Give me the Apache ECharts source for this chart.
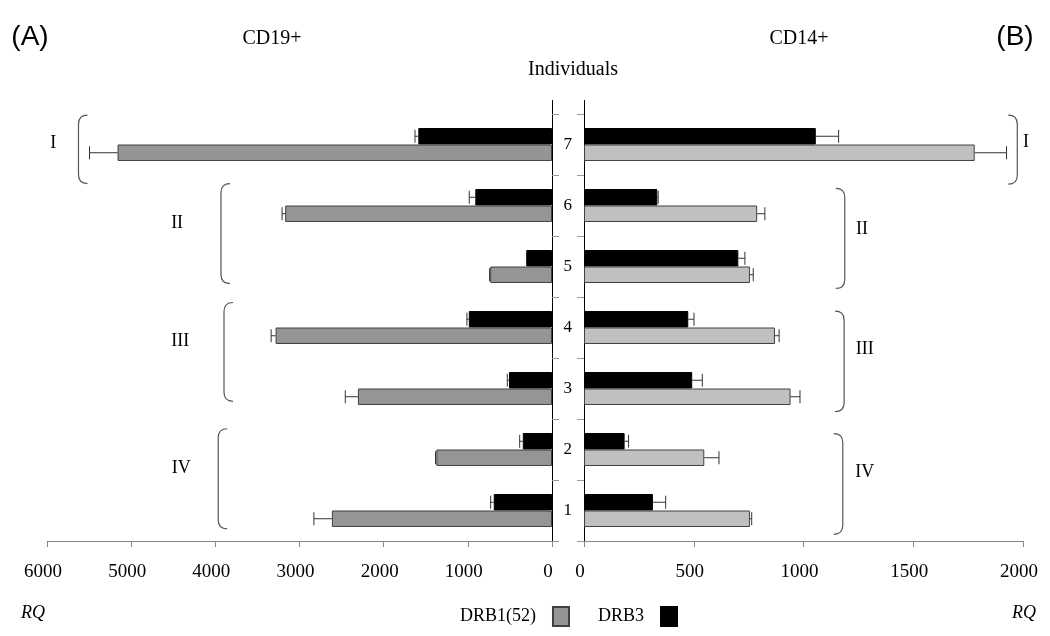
<!DOCTYPE html>
<html><head><meta charset="utf-8">
<script src="https://cdn.jsdelivr.net/npm/echarts@6/dist/echarts.min.js"></script>
<style>html,body{margin:0;padding:0;background:#fff}#c{width:1050px;height:636px}</style>
</head><body><div id="c"></div>
<script>
// ---------------- data ----------------
const categories = ['1', '2', '3', '4', '5', '6', '7'];
// CD19+ (panel A)
const cd19Drb1 = [2615, 1374, 2306, 3284, 734, 3170, 5162];
const cd19Drb1Err = [214, 10, 150, 53, 8, 37, 333];
const cd19Drb3 = [692, 347, 511, 988, 306, 911, 1588];
const cd19Drb3Err = [37, 37, 20, 23, 0, 72, 40];
// CD14+ (panel B)
const cd14Drb1 = [756, 548, 941, 870, 756, 789, 1780];
const cd14Drb1Err = [8, 67, 43, 19, 15, 35, 145];
const cd14Drb3 = [314, 185, 493, 475, 703, 334, 1056];
const cd14Drb3Err = [58, 18, 46, 26, 30, 4, 104];
// axis ticks
const cd19Ticks = [0, 1000, 2000, 3000, 4000, 5000, 6000];
const cd14Ticks = [0, 500, 1000, 1500, 2000];
// groups of individuals
const groupNames = ['I', 'II', 'III', 'IV'];
const groupTop = ['7', '6', '4', '2'];
const groupBottom = ['7', '5', '3', '1'];

// ---------------- layout / style ----------------
const SERIF = '"Liberation Serif","Times New Roman",serif';
const GRID_TOP = 114, GRID_BOTTOM = 95;
const LEFT_GRID = {left: 47, width: 505};
const RIGHT_GRID = {left: 584, width: 439};
const BAR_FRAC = 0.27; // bar thickness as fraction of band
const GRAY_L = '#959595', GRAY_R = '#c0c0c0', EDGE = '#404040';

// bracket layout: x (value units), label x (value units), top/bottom offsets (band fraction), label y offset (px)
const leftBracketLayout = [
  {x: 5626, lx: 5926, t: -0.48, b: 0.64, ly: -6},
  {x: 3933, lx: 4454, t: -0.36, b: 0.28, ly: -10},
  {x: 3897, lx: 4418, t: -0.41, b: 0.21, ly: -11},
  {x: 3966, lx: 4406, t: -0.34, b: 0.30, ly: -11}
];
const rightBracketLayout = [
  {x: 1974, lx: 2014, t: -0.48, b: 0.65, ly: -7},
  {x: 1188, lx: 1266, t: -0.28, b: 0.36, ly: -9},
  {x: 1185, lx: 1279, t: -0.27, b: 0.38, ly: -12},
  {x: 1179, lx: 1279, t: -0.26, b: 0.39, ly: -12}
];

function errRender(slot) {
  return function (params, api) {
    const v = api.value(0), c = api.value(1), e = api.value(2);
    if (!(e > 0)) return null;
    const band = api.size([0, 1])[1];
    const bw = band * BAR_FRAC;
    const a = api.coord([v, c]);
    const b = api.coord([v + e, c]);
    const y = a[1] + slot * bw;
    const h = 6.5;
    return {type: 'group', children: [
      {type: 'line', shape: {x1: a[0], y1: y, x2: b[0], y2: y}, style: {stroke: '#333', lineWidth: 1}},
      {type: 'line', shape: {x1: b[0], y1: y - h, x2: b[0], y2: y + h}, style: {stroke: '#333', lineWidth: 1}}
    ]};
  };
}

function bracketRender(layout, side) {
  return function (params, api) {
    const L = layout[params.dataIndex];
    const band = api.size([0, 1])[1];
    const ti = categories.indexOf(groupTop[params.dataIndex]);
    const bi = categories.indexOf(groupBottom[params.dataIndex]);
    const pt = api.coord([L.x, ti]);
    const pb = api.coord([L.x, bi]);
    const yt = pt[1] + L.t * band;
    const yb = pb[1] + L.b * band;
    const x0 = pt[0];
    const d = side === 'left' ? 9 : -9;
    const r = 9;
    const path = 'M' + (x0 + d) + ' ' + yt + ' Q' + x0 + ' ' + yt + ' ' + x0 + ' ' + (yt + r) +
      ' L' + x0 + ' ' + (yb - r) + ' Q' + x0 + ' ' + yb + ' ' + (x0 + d) + ' ' + yb;
    const lp = api.coord([L.lx, ti]);
    return {type: 'group', children: [
      {type: 'path', shape: {pathData: path}, style: {stroke: '#555', lineWidth: 1.2, fill: null}},
      {type: 'text', x: lp[0], y: (yt + yb) / 2 + L.ly,
        style: {text: groupNames[params.dataIndex], font: '18px ' + SERIF, fill: '#000',
          align: 'center', verticalAlign: 'middle'}}
    ]};
  };
}

function errData(vals, errs) {
  return vals.map((v, i) => [v, i, errs[i]]);
}

const xAxisCommon = {
  type: 'value',
  splitLine: {show: false},
  axisLine: {show: true, lineStyle: {color: '#8a8a8a', width: 1}},
  axisTick: {show: true, length: 6, lineStyle: {color: '#8a8a8a'}},
  axisLabel: {color: '#000', fontFamily: SERIF, fontSize: 19, margin: 22, padding: [0, 8, 0, 0],
    formatter: function (v) { return String(v); }}
};
const yAxisCommon = {
  type: 'category',
  data: categories,
  boundaryGap: true,
  axisLine: {show: true, lineStyle: {color: '#000', width: 1}},
  axisTick: {show: true, length: 7, lineStyle: {color: '#9a9a9a'}},
  splitLine: {show: false}
};

const barCommon = {type: 'bar', barGap: '0%', barCategoryGap: '46%', animation: false};

const option = {
  animation: false,
  backgroundColor: '#fff',
  grid: [
    {left: LEFT_GRID.left, width: LEFT_GRID.width, top: GRID_TOP, bottom: GRID_BOTTOM},
    {left: RIGHT_GRID.left, width: RIGHT_GRID.width, top: GRID_TOP, bottom: GRID_BOTTOM}
  ],
  xAxis: [
    Object.assign({}, xAxisCommon, {gridIndex: 0, inverse: true, min: cd19Ticks[0],
      max: cd19Ticks[cd19Ticks.length - 1], interval: cd19Ticks[1] - cd19Ticks[0]}),
    Object.assign({}, xAxisCommon, {gridIndex: 1, min: cd14Ticks[0],
      max: cd14Ticks[cd14Ticks.length - 1], interval: cd14Ticks[1] - cd14Ticks[0]})
  ],
  yAxis: [
    Object.assign({}, yAxisCommon, {gridIndex: 0, position: 'right', axisLabel: {show: false}}),
    Object.assign({}, yAxisCommon, {gridIndex: 1, position: 'left',
      axisLabel: {show: true, color: '#000', fontFamily: SERIF, fontSize: 17, margin: 12}})
  ],
  legend: {
    data: ['DRB1(52)', 'DRB3'],
    left: 455, top: 601,
    align: 'right',
    itemWidth: 16, itemHeight: 19, itemGap: 28,
    icon: 'rect',
    textStyle: {color: '#000', fontFamily: SERIF, fontSize: 18, padding: [0, 12, 0, 0]}
  },
  series: [
    // in horizontal bars the first series of a band is drawn on top
    Object.assign({}, barCommon, {name: 'DRB3', xAxisIndex: 0, yAxisIndex: 0, data: cd19Drb3,
      itemStyle: {color: '#000', borderColor: '#000', borderWidth: 1}}),
    Object.assign({}, barCommon, {name: 'DRB1(52)', xAxisIndex: 0, yAxisIndex: 0, data: cd19Drb1,
      itemStyle: {color: GRAY_L, borderColor: EDGE, borderWidth: 1}}),
    Object.assign({}, barCommon, {name: 'DRB3', xAxisIndex: 1, yAxisIndex: 1, data: cd14Drb3,
      itemStyle: {color: '#000', borderColor: '#000', borderWidth: 1}}),
    Object.assign({}, barCommon, {name: 'DRB1(52)', xAxisIndex: 1, yAxisIndex: 1, data: cd14Drb1,
      itemStyle: {color: GRAY_R, borderColor: EDGE, borderWidth: 1}}),
    {type: 'custom', name: 'errA1', xAxisIndex: 0, yAxisIndex: 0, z: 5, renderItem: errRender(0.5),
      encode: {x: 0, y: 1}, data: errData(cd19Drb1, cd19Drb1Err)},
    {type: 'custom', name: 'errA3', xAxisIndex: 0, yAxisIndex: 0, z: 5, renderItem: errRender(-0.5),
      encode: {x: 0, y: 1}, data: errData(cd19Drb3, cd19Drb3Err)},
    {type: 'custom', name: 'errB1', xAxisIndex: 1, yAxisIndex: 1, z: 5, renderItem: errRender(0.5),
      encode: {x: 0, y: 1}, data: errData(cd14Drb1, cd14Drb1Err)},
    {type: 'custom', name: 'errB3', xAxisIndex: 1, yAxisIndex: 1, z: 5, renderItem: errRender(-0.5),
      encode: {x: 0, y: 1}, data: errData(cd14Drb3, cd14Drb3Err)},
    {type: 'custom', name: 'groupsA', xAxisIndex: 0, yAxisIndex: 0, clip: false,
      renderItem: bracketRender(leftBracketLayout, 'left'), encode: {x: 0, y: 1},
      data: groupNames.map((n, i) => [leftBracketLayout[i].x, categories.indexOf(groupTop[i])])},
    {type: 'custom', name: 'groupsB', xAxisIndex: 1, yAxisIndex: 1, clip: false,
      renderItem: bracketRender(rightBracketLayout, 'right'), encode: {x: 0, y: 1},
      data: groupNames.map((n, i) => [rightBracketLayout[i].x, categories.indexOf(groupTop[i])])}
  ],
  graphic: [
    {type: 'text', x: 30, y: 37, style: {text: '(A)', font: '28px "Liberation Sans", Arial, sans-serif', fill: '#000', align: 'center', verticalAlign: 'middle'}},
    {type: 'text', x: 1015, y: 37, style: {text: '(B)', font: '28px "Liberation Sans", Arial, sans-serif', fill: '#000', align: 'center', verticalAlign: 'middle'}},
    {type: 'text', x: 272, y: 39, style: {text: 'CD19+', font: '20px ' + SERIF, fill: '#000', align: 'center', verticalAlign: 'middle'}},
    {type: 'text', x: 799, y: 39, style: {text: 'CD14+', font: '20px ' + SERIF, fill: '#000', align: 'center', verticalAlign: 'middle'}},
    {type: 'text', x: 573, y: 70, style: {text: 'Individuals', font: '20px ' + SERIF, fill: '#000', align: 'center', verticalAlign: 'middle'}},
    {type: 'text', x: 33, y: 613, style: {text: 'RQ', font: 'italic 18px ' + SERIF, fill: '#000', align: 'center', verticalAlign: 'middle'}},
    {type: 'text', x: 1024, y: 613, style: {text: 'RQ', font: 'italic 18px ' + SERIF, fill: '#000', align: 'center', verticalAlign: 'middle'}},
    // upward extension of the two category axis lines
    {type: 'line', shape: {x1: LEFT_GRID.left + LEFT_GRID.width + 0.5, y1: GRID_TOP - 14, x2: LEFT_GRID.left + LEFT_GRID.width + 0.5, y2: GRID_TOP}, style: {stroke: '#000', lineWidth: 1}},
    {type: 'line', shape: {x1: RIGHT_GRID.left + 0.5, y1: GRID_TOP - 14, x2: RIGHT_GRID.left + 0.5, y2: GRID_TOP}, style: {stroke: '#000', lineWidth: 1}}
  ]
};

const chart = echarts.init(document.getElementById('c'), null, {renderer: 'canvas'});
chart.setOption(option);
</script>
</body></html>
